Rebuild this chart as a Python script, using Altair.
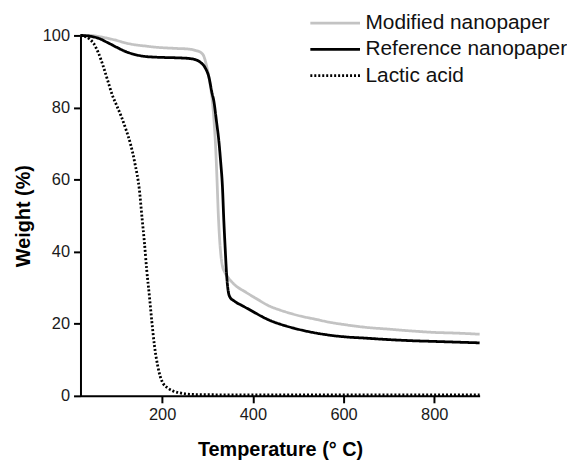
import altair as alt
import pandas as pd

series_names = ["Modified nanopaper", "Reference nanopaper", "Lactic acid"]

temp_modified = [20, 40, 60, 80, 100, 120, 140, 160, 180, 200, 230, 260, 275, 285, 292, 299, 303, 307, 311, 314, 318,
                 321, 324, 327, 330, 333, 338, 347, 360, 384, 410, 435, 460, 500, 540, 570, 600, 650, 700, 750, 800, 850, 900]
weight_modified = [100, 100, 99.7, 99.2, 98.6, 97.9, 97.4, 97.1, 96.8, 96.6, 96.4, 96.2, 95.8, 95.3, 94.2, 91, 88.5, 85.5, 81.5, 77, 69,
                   60, 50, 43, 38.5, 36, 34.3, 32.6, 30.8, 28.8, 26.8, 25.0, 23.8, 22.3, 21.2, 20.4, 19.8, 19.0, 18.5, 18.0, 17.6, 17.4, 17.1]

temp_reference = [20, 40, 60, 80, 100, 120, 140, 160, 180, 200, 230, 260, 275, 285, 295, 303, 310, 314, 320, 325, 329, 333,
                  336, 339, 342, 346, 350, 358, 380, 400, 420, 440, 460, 490, 520, 560, 600, 650, 700, 750, 800, 850, 900]
weight_reference = [100, 99.8, 99.2, 98.0, 96.7, 95.5, 94.7, 94.2, 94.0, 93.9, 93.8, 93.6, 93.2, 92.5, 91.0, 88.5, 84, 81.8, 76, 70.8, 65, 58,
                    48.7, 41, 34, 28.8, 27.3, 26.4, 24.8, 23.4, 22.0, 20.8, 19.9, 18.8, 17.9, 17.0, 16.4, 16.0, 15.6, 15.3, 15.1, 14.9, 14.7]

temp_lactic = [20, 30, 40, 50, 60, 70, 80, 90, 100, 110, 120, 130, 140, 150, 156, 161, 166, 172, 177, 183, 190, 196, 202,
               212, 223, 240, 255, 280, 320, 400, 500, 600, 700, 800, 900]
weight_lactic = [100, 99.7, 99, 97.6, 95, 91.5, 87.5, 83.5, 80.5, 77.5, 74, 70, 64.5, 57, 49, 42.5, 35, 27.6, 21, 14, 8.5, 5.3, 3.5,
                 2.2, 1.4, 0.8, 0.5, 0.35, 0.3, 0.3, 0.3, 0.3, 0.3, 0.3, 0.3]

x_ticks = [200, 400, 600, 800]
y_ticks = [0, 20, 40, 60, 80, 100]

rows = []
for name, ts, ws in [(series_names[0], temp_modified, weight_modified),
                     (series_names[1], temp_reference, weight_reference),
                     (series_names[2], temp_lactic, weight_lactic)]:
    for t, w in zip(ts, ws):
        rows.append({"series": name, "T": t, "W": w})
df = pd.DataFrame(rows)

FONT = "Liberation Sans"

legend = alt.Legend(
    title=None, orient="none", legendX=246, legendY=-23,
    symbolType="M-5,0L5,0", symbolSize=100, symbolStrokeWidth=2.6,
    labelFontSize=21, labelFont=FONT, labelColor="#111111", labelLimit=400,
    labelOffset=20, rowPadding=4.5, padding=0,
)

chart = alt.Chart(df).mark_line(interpolate="monotone").encode(
    x=alt.X("T:Q", scale=alt.Scale(domain=[20, 900], nice=False, zero=False),
            axis=alt.Axis(values=x_ticks, title="Temperature (° C)", titlePadding=17)),
    y=alt.Y("W:Q", scale=alt.Scale(domain=[0, 100], nice=False),
            axis=alt.Axis(values=y_ticks, title="Weight (%)", titlePadding=9)),
    color=alt.Color("series:N", sort=series_names,
                    scale=alt.Scale(domain=series_names, range=["#c3c3c3", "#000000", "#000000"]),
                    legend=legend),
    strokeDash=alt.StrokeDash("series:N", sort=series_names,
                              scale=alt.Scale(domain=series_names, range=[[1, 0], [1, 0], [2, 2]]),
                              legend=legend),
    strokeWidth=alt.StrokeWidth("series:N", sort=series_names,
                                scale=alt.Scale(domain=series_names, range=[2.8, 2.8, 2.2]),
                                legend=None),
).properties(
    width=402, height=363,
    autosize=alt.AutoSizeParams(type="none"),
    padding={"left": 73, "top": 26, "right": 88, "bottom": 65},
).configure_view(stroke=None).configure_axis(
    grid=False, domainColor="#000000", domainWidth=2, tickColor="#000000", tickWidth=2, tickSize=7,
    labelFont=FONT, labelFontSize=16.5, labelColor="#1a1a1a", labelPadding=4,
    titleFont=FONT, titleFontSize=20, titleFontWeight="bold", titleColor="#000000",
)

chart.save("out.html", embed_options={"renderer": "svg", "actions": False})
